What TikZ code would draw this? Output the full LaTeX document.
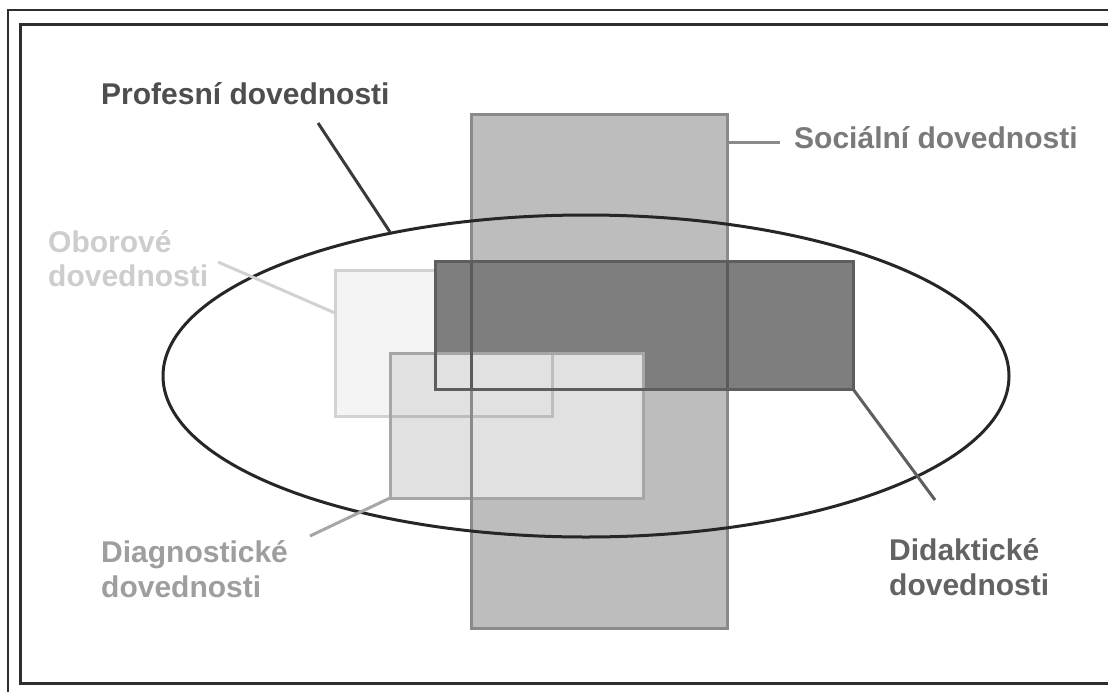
\documentclass[tikz,border=0pt]{standalone}
\usepackage{fontspec}
\setmainfont{Liberation Sans}
\definecolor{framecol}{HTML}{2E2E2E}
\definecolor{elcol}{HTML}{262626}
\definecolor{proftext}{HTML}{4E4E4E}
\definecolor{profline}{HTML}{3A3A3A}
\definecolor{socfill}{HTML}{BDBDBD}
\definecolor{socline}{HTML}{8A8A8A}
\definecolor{socdark}{HTML}{5A5A5A}
\definecolor{soctext}{HTML}{7A7A7A}
\definecolor{didfill}{HTML}{7E7E7E}
\definecolor{didline}{HTML}{5E5E5E}
\definecolor{didtext}{HTML}{636363}
\definecolor{oborfill}{HTML}{F4F4F4}
\definecolor{oborline}{HTML}{D2D2D2}
\definecolor{oborover}{HTML}{BDBDBD}
\definecolor{obortext}{HTML}{CDCDCD}
\definecolor{diagfill}{HTML}{E1E1E1}
\definecolor{diagline}{HTML}{A6A6A6}
\definecolor{diagtext}{HTML}{9E9E9E}
\begin{document}
\begin{tikzpicture}[x=1pt,y=-1pt,
  lab/.style={font=\bfseries\fontsize{30}{35}\selectfont, inner sep=0pt, anchor=base west},
  conn/.style={line width=3pt},
  boxline/.style={line width=3pt}]
\useasboundingbox (0,0) rectangle (1108,691);
\clip (0,0) rectangle (1108,691);
\fill[white] (0,0) rectangle (1108,691);
% frame
\draw[framecol, line width=1.5pt] (8,10) rectangle (1130,710);
\draw[framecol, line width=3pt] (20,24) rectangle (1125,683);
% rectangle corners
\coordinate (socNW) at (471,114);  \coordinate (socSE) at (727,628);
\coordinate (didNW) at (435,261);  \coordinate (didSE) at (853,389);
\coordinate (oborNW) at (335,270); \coordinate (oborSE) at (552,416);
\coordinate (diagNW) at (390,353); \coordinate (diagSE) at (643,498);
% Oborove box, partly covered by the others
\fill[oborfill] (oborNW) rectangle (oborSE);
\draw[boxline, oborline] (oborNW) rectangle (oborSE);
\fill[socfill] (socNW) rectangle (socSE);
\fill[didfill] (didNW) rectangle (didSE);
\fill[diagfill] (diagNW) rectangle (diagSE);
% Oborove outline seen through the diagnostic box
\begin{scope}
  \clip (diagNW) rectangle (diagSE);
  \draw[boxline, oborover] (oborNW) rectangle (oborSE);
\end{scope}
% borders
\draw[boxline, diagline] (diagNW) rectangle (diagSE);
\draw[boxline, socline] (socNW) rectangle (socSE);
\begin{scope}
  \clip (didNW) rectangle (didSE);
  \draw[boxline, socdark] (socNW) rectangle (socSE);
\end{scope}
\draw[boxline, didline] (didNW) rectangle (didSE);
% ellipse
\draw[elcol, line width=3pt] (586,376) ellipse [x radius=423, y radius=161];
% labels
\node[lab, text=proftext] (prof) at (101,104) {Profesní dovednosti};
\node[lab, text=soctext] (soc) at (794,148) {Sociální dovednosti};
\node[lab, text=obortext] (obor1) at (48,252) {Oborové};
\node[lab, text=obortext] (obor2) at (48,286) {dovednosti};
\node[lab, text=diagtext] (diag1) at (101,562) {Diagnostické};
\node[lab, text=diagtext] (diag2) at (101,597) {dovednosti};
\node[lab, text=didtext] (did1) at (889,560) {Didaktické};
\node[lab, text=didtext] (did2) at (889,595) {dovednosti};
% connectors
\coordinate (profA) at (318,123); \coordinate (profB) at (390,232);
\coordinate (socA) at (727,142);  \coordinate (socB) at (780,142);
\coordinate (oborA) at (218,262); \coordinate (oborB) at (335,313);
\coordinate (diagA) at (310,536); \coordinate (diagB) at (390,498);
\coordinate (didA) at (853,389);  \coordinate (didB) at (935,500);
\draw[conn, profline] (profA) -- (profB);
\draw[conn, socline] (socA) -- (socB);
\draw[conn, oborline] (oborA) -- (oborB);
\draw[conn, diagline] (diagA) -- (diagB);
\draw[conn, didline] (didA) -- (didB);
\end{tikzpicture}
\end{document}
